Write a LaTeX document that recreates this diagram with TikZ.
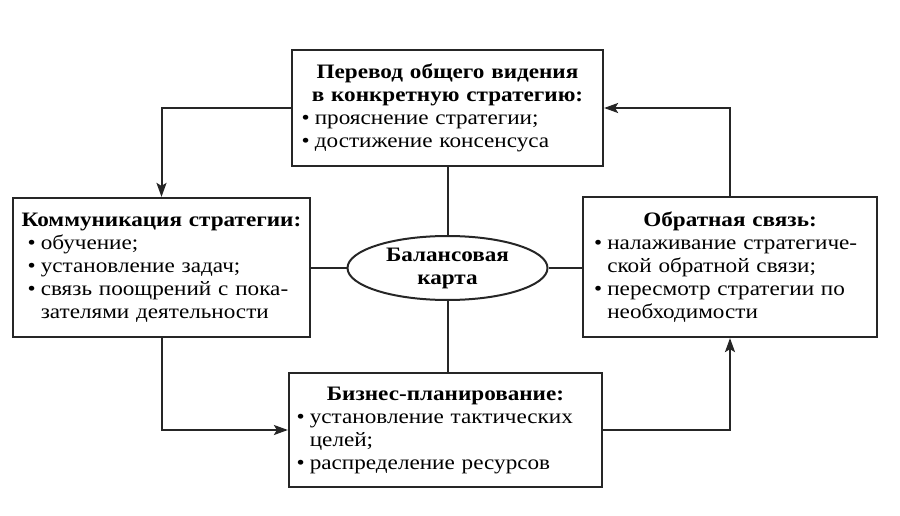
\documentclass[tikz,border=0pt]{standalone}
\usepackage{fontspec}
\setmainfont[FakeStretch=1.13]{Liberation Serif}
\usetikzlibrary{arrows.meta,shapes.geometric}
\newcommand{\itm}{\makebox[0.65em][l]{•}}
\newcommand{\cnt}{\hspace*{0.65em}}
\newcommand{\ttl}[1]{\makebox[\linewidth][c]{\bfseries #1}}
\begin{document}
\begin{tikzpicture}[x=1pt,y=-1pt,
  boxst/.style={draw=black!85, line width=2.2pt, rectangle, align=left,
    font=\fontsize{20.5}{23}\selectfont, inner xsep=0pt, inner ysep=0pt},
  ellst/.style={draw=black!85, line width=2pt, ellipse, align=center,
    font=\fontsize{20.5}{23}\selectfont\bfseries, minimum width=200pt, minimum height=64pt, inner sep=0pt},
  conn/.style={draw=black!85, line width=2pt},
  arr/.style={conn, -{Stealth[length=14pt,width=10pt,inset=3pt]}}]
\useasboundingbox (0,0) rectangle (900,516);
\node[boxst, minimum width=311pt, minimum height=116pt, text width=292pt] (top) at (447.5,108)
 {\ttl{Перевод общего видения}\\
  \ttl{в конкретную стратегию:}\\
  \itm прояснение стратегии;\\
  \itm достижение консенсуса};
\node[boxst, minimum width=297pt, minimum height=139pt, text width=268pt] (lft) at (161.5,267.5)
 {\ttl{Коммуникация стратегии:}\\
  \itm обучение;\\
  \itm установление задач;\\
  \itm связь поощрений с пока-\\
  \cnt зателями деятельности};
\node[boxst, minimum width=294pt, minimum height=140pt, text width=272pt] (rgt) at (730,267)
 {\ttl{Обратная связь:}\\
  \itm налаживание стратегиче-\\
  \cnt ской обратной связи;\\
  \itm пересмотр стратегии по\\
  \cnt необходимости};
\node[boxst, minimum width=313pt, minimum height=114pt, text width=298pt] (bot) at (445.5,430)
 {\ttl{Бизнес-планирование:}\\
  \itm установление тактических\\
  \cnt целей;\\
  \itm распределение ресурсов};
\node[ellst] (ell) at (447.5,268) {Балансовая\\карта};
\draw[conn] (top.south) -- (ell.north);
\draw[conn] (ell.south) -- (ell.south |- bot.north);
\draw[conn] (ell.west) -- (ell.west -| lft.east);
\draw[conn] (ell.east) -- (ell.east -| rgt.west);
\draw[arr] (top.west) -| (lft.north);
\draw[arr] (lft.south) |- (bot.west);
\draw[arr] (bot.east) -| (rgt.south);
\draw[arr] (rgt.north) |- (top.east);
\end{tikzpicture}
\end{document}
